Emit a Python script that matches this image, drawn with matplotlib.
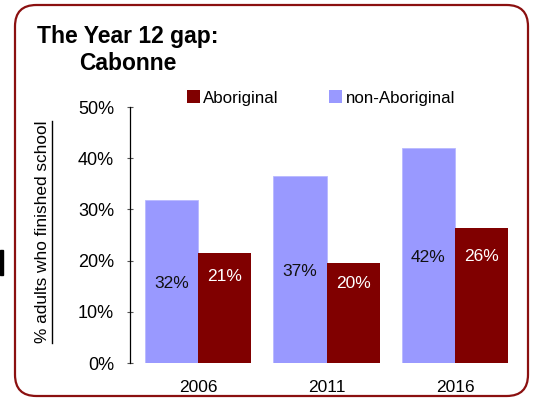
import matplotlib
matplotlib.use("Agg")
import matplotlib.pyplot as plt
import numpy as np
from matplotlib.patches import FancyBboxPatch, Rectangle, Patch
from matplotlib.lines import Line2D

plt.rcParams["font.family"] = ["Liberation Sans", "DejaVu Sans"]

# ── Data ──────────────────────────────────────────────────────────────────────
years = ["2006", "2011", "2016"]
non_aboriginal = [31.8, 36.6, 41.9]
aboriginal = [21.4, 19.6, 26.3]
non_ab_labels = ["32%", "37%", "42%"]
ab_labels = ["21%", "20%", "26%"]
yticks = [0, 10, 20, 30, 40, 50]

PURPLE = "#9999FF"
MAROON = "#800000"
BORDER = "#8B1010"

W, H = 534, 399
fig = plt.figure(figsize=(W / 100, H / 100), dpi=100)

# rounded frame around the whole chart
frame = FancyBboxPatch((15 / W, 3 / H), (528 - 15) / W, (394 - 3) / H,
                       boxstyle="round,pad=0,rounding_size=0.04",
                       mutation_aspect=W / H, transform=fig.transFigure,
                       facecolor="none", edgecolor=BORDER, linewidth=1.6,
                       zorder=-1)
fig.patches.append(frame)
# stray mark at the left edge
fig.patches.append(Rectangle((0, 1 - 275 / H), 3 / W, 25 / H,
                             transform=fig.transFigure, color="black"))

ax = fig.add_axes([130 / W, 1 - 363 / H, (523 - 130) / W, (363 - 107) / H])

x = np.arange(len(years))
bw = 0.415
b1 = ax.bar(x - bw / 2, non_aboriginal, width=bw, color=PURPLE,
            edgecolor="#b8b8ff", linewidth=0.6, label="non-Aboriginal")
b2 = ax.bar(x + bw / 2, aboriginal, width=bw, color=MAROON,
            label="Aboriginal")

for xi, v, t in zip(x, non_aboriginal, non_ab_labels):
    ax.text(xi - bw / 2, v * 0.49, t, ha="center", va="center",
            fontsize=12.5, color="#111111")
for xi, v, t in zip(x, aboriginal, ab_labels):
    ax.text(xi + bw / 2, v * 0.79, t, ha="center", va="center",
            fontsize=12.5, color="white")

ax.set_xlim(-0.529, 2.529)
ax.set_ylim(0, 50)
ax.set_yticks(yticks)
ax.set_yticklabels([f"{t}%" for t in yticks], fontsize=13)
ax.set_xticks(x)
ax.set_xticklabels(years, fontsize=12.5)
ax.tick_params(axis="y", direction="inout", length=5, width=0.8,
               color="#555555", pad=9)
ax.tick_params(axis="x", length=0, pad=12)
for s in ["top", "right", "bottom"]:
    ax.spines[s].set_visible(False)
ax.spines["left"].set_linewidth(0.9)
ax.set_facecolor("none")

# legend: Aboriginal first
handles = [Patch(facecolor=MAROON), Patch(facecolor=PURPLE)]
fig.legend(handles, ["Aboriginal", "non-Aboriginal"], ncol=2,
           loc="center left", bbox_to_anchor=(187 / W, 1 - 98 / H),
           frameon=False, fontsize=12.2, handlelength=0.75, handleheight=0.75,
           handletextpad=0.2, columnspacing=3.0, borderpad=0, borderaxespad=0)

# title
fig.text(37 / W, 1 - 43 / H, "The Year 12 gap:", fontsize=16.5,
         fontweight="bold", va="baseline", ha="left")
fig.text(79 / W, 1 - 70 / H, "Cabonne", fontsize=16.5,
         fontweight="bold", va="baseline", ha="left")

# underlined y label
ylab = fig.text(43 / W, 1 - 232 / H, "% adults who finished school",
                rotation=90, fontsize=12.4, ha="center", va="center")
fig.canvas.draw()
bb = ylab.get_window_extent().transformed(fig.transFigure.inverted())
fig.add_artist(Line2D([bb.x1 + 1 / W, bb.x1 + 1 / W], [bb.y0, bb.y1],
                      transform=fig.transFigure, color="black", linewidth=1))

fig.savefig("out.png", dpi=100)
